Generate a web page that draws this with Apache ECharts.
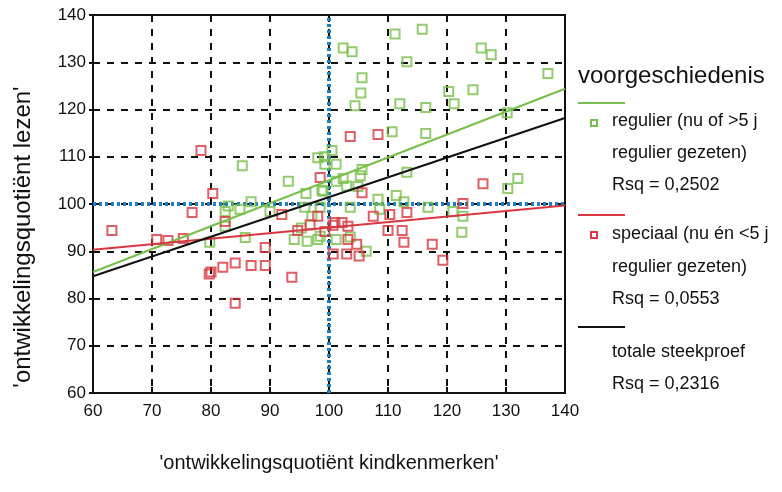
<!DOCTYPE html>
<html>
<head>
<meta charset="utf-8">
<script src="https://cdn.jsdelivr.net/npm/echarts@6/dist/echarts.min.js"></script>
<style>
html, body { margin: 0; padding: 0; background: #fff; }
#chart { width: 782px; height: 492px; }
</style>
</head>
<body>
<div id="chart"></div>
<script>
// punten per groep: [kindkenmerken, lezen]
var regulier = [
	[102.4, 133.0], [103.9, 132.2], [111.2, 136.0], [115.8, 137.0], [113.2, 130.1],
	[125.8, 133.0], [127.5, 131.6], [137.1, 127.6], [105.6, 126.7], [105.4, 123.5],
	[104.4, 120.8], [120.3, 123.8], [124.4, 124.2], [121.2, 121.2], [112.0, 121.2],
	[116.4, 120.4], [110.7, 115.3], [116.4, 114.9], [130.2, 119.3], [100.5, 111.3],
	[99.2, 110.0], [101.2, 108.4], [99.3, 108.4], [105.6, 107.3], [105.3, 106.0],
	[113.2, 106.7], [101.2, 104.8], [102.4, 105.4], [103.0, 103.8], [104.9, 103.7],
	[99.0, 102.7], [132.0, 105.4], [130.3, 103.3], [108.3, 101.0], [111.4, 101.8],
	[112.7, 100.5], [85.3, 108.1], [93.1, 104.8], [98.1, 109.8], [96.1, 102.2],
	[98.8, 102.9], [86.8, 100.5], [82.9, 99.6], [82.4, 98.4], [84.9, 98.9],
	[82.4, 95.3], [85.8, 92.9], [79.8, 91.9], [90.0, 98.4], [95.9, 99.3],
	[97.1, 97.4], [98.5, 99.3], [94.1, 92.5], [96.3, 92.1], [95.3, 94.9],
	[98.1, 92.5], [98.5, 93.2], [101.2, 92.5], [103.6, 93.0], [106.3, 90.0],
	[108.6, 98.9], [116.8, 99.3], [121.0, 98.4], [122.7, 97.4], [122.5, 94.0],
	[103.6, 99.3]
];
var speciaal = [
	[78.3, 111.3], [80.3, 102.2], [98.5, 105.6], [103.6, 114.3], [108.3, 114.7],
	[126.1, 104.3], [105.6, 102.4], [122.7, 100.1], [63.2, 94.4], [70.8, 92.5],
	[72.7, 92.3], [75.3, 92.7], [76.8, 98.2], [82.4, 96.3], [89.2, 90.8],
	[92.0, 97.8], [79.7, 85.2], [80.0, 85.6], [82.0, 86.6], [84.1, 87.5],
	[86.8, 87.0], [89.2, 87.0], [93.7, 84.5], [84.1, 79.0], [94.7, 94.4],
	[96.8, 95.6], [98.1, 97.4], [99.3, 94.2], [100.7, 95.5], [101.0, 96.1],
	[102.2, 96.1], [103.2, 95.3], [103.2, 92.5], [104.7, 91.5], [100.7, 89.4],
	[103.0, 89.4], [105.1, 89.0], [107.5, 97.4], [110.3, 97.8], [113.2, 98.2],
	[110.0, 94.4], [112.4, 94.4], [112.7, 91.9], [117.5, 91.5], [119.3, 88.1]
];
// regressielijnen (begin- en eindpunt)
var fitRegulier = [[60, 85.6], [140, 124.4]];
var fitSpeciaal = [[60, 90.3], [140, 99.7]];
var fitTotaal = [[60, 84.7], [140, 118.2]];
// referentielijnen op 100
var refVert = [[100, 60], [100, 140]];
var refHor = [[60, 100], [140, 100]];

var GREEN = "#77bf4a";
var RED = "#d8373f";
var BLUE = "#1f7fc3";
var FONT = "Liberation Sans";

var chart = echarts.init(document.getElementById("chart"));

function lineSeries(data, color, width, type, z){
	return {
		type: "line",
		data: data,
		symbol: "none",
		silent: true,
		animation: false,
		z: z,
		lineStyle: {color: color, width: width, type: type}
	};
}
function scatterSeries(data, color){
	return {
		type: "scatter",
		data: data,
		symbol: "rect",
		symbolSize: 9,
		animation: false,
		z: 5,
		itemStyle: {color: "rgba(255,255,255,0)", borderColor: color, borderWidth: 2}
	};
}

var legendX = 578;
function txt(y, s){
	return {type: "text", left: legendX + 34, top: y, style: {text: s, font: "18px " + FONT, fill: "#111"}};
}
function lgLine(y, color){
	return {type: "line", shape: {x1: legendX, y1: y, x2: legendX + 47, y2: y}, style: {stroke: color, lineWidth: 2}};
}
function lgBox(y, color){
	return {type: "rect", shape: {x: legendX + 13, y: y, width: 6, height: 6}, style: {fill: "none", stroke: color, lineWidth: 2}};
}

chart.setOption({
	animation: false,
	grid: {left: 93, right: 217, top: 15, bottom: 99, show: true, borderColor: "#111", borderWidth: 2, backgroundColor: "#fff"},
	xAxis: {
		type: "value", min: 60, max: 140, interval: 10,
		name: "'ontwikkelingsquotiënt kindkenmerken'",
		nameLocation: "middle", nameGap: 60,
		nameTextStyle: {fontFamily: FONT, fontSize: 20, color: "#111"},
		axisLine: {show: true, lineStyle: {color: "#111", width: 2}},
		axisTick: {show: true, inside: true, length: 6, lineStyle: {color: "#111", width: 2}},
		axisLabel: {fontFamily: FONT, fontSize: 17, color: "#111", margin: 10},
		splitLine: {show: true, lineStyle: {color: "#111", width: 2, type: [7, 7]}}
	},
	yAxis: {
		type: "value", min: 60, max: 140, interval: 10,
		axisLine: {show: true, lineStyle: {color: "#111", width: 2}},
		axisTick: {show: true, length: 4, lineStyle: {color: "#111", width: 2}},
		axisLabel: {fontFamily: FONT, fontSize: 17, color: "#111", margin: 7},
		splitLine: {show: true, lineStyle: {color: "#111", width: 2, type: [7, 7]}}
	},
	series: [
		lineSeries(refVert, BLUE, 4, [3, 3], 3),
		lineSeries(refHor, BLUE, 4, [3, 3], 3),
		scatterSeries(regulier, GREEN),
		scatterSeries(speciaal, RED),
		lineSeries(fitRegulier, GREEN, 2, "solid", 6),
		lineSeries(fitSpeciaal, RED, 2, "solid", 6),
		lineSeries(fitTotaal, "#111", 2, "solid", 6)
	],
	graphic: [
		{type: "text", x: 23, y: 237, rotation: Math.PI / 2,
			style: {text: "'ontwikkelingsquotiënt lezen'", font: "24px " + FONT, fill: "#111", textAlign: "center", textVerticalAlign: "middle"}},
		{type: "text", left: legendX, top: 64, style: {text: "voorgeschiedenis", font: "24px " + FONT, fill: "#111"}},
		lgLine(103, GREEN),
		lgBox(120, GREEN),
		txt(112, "regulier (nu of >5 j"),
		txt(144, "regulier gezeten)"),
		txt(176, "Rsq = 0,2502"),
		lgLine(215, RED),
		lgBox(232, RED),
		txt(225, "speciaal (nu én <5 j"),
		txt(258, "regulier gezeten)"),
		txt(290, "Rsq = 0,0553"),
		lgLine(327, "#111"),
		txt(343, "totale steekproef"),
		txt(375, "Rsq = 0,2316")
	]
});
</script>
</body>
</html>
